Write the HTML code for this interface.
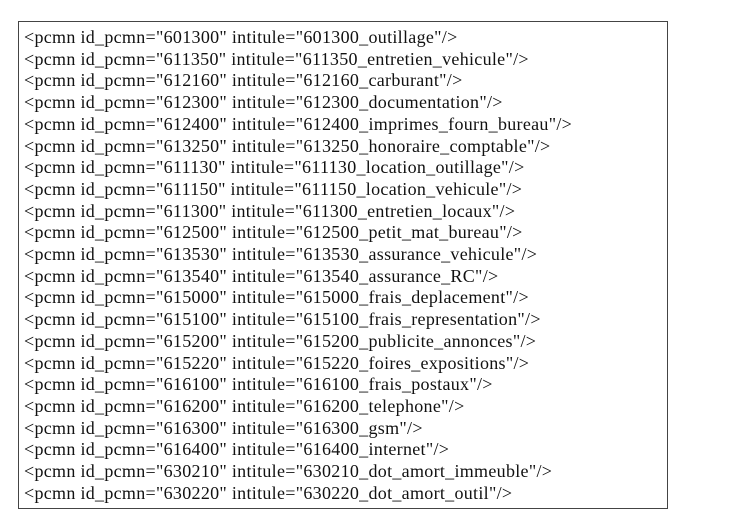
<!DOCTYPE html>
<html><head><meta charset="utf-8"><style>
html,body{margin:0;padding:0;background:#fff;}
body{width:750px;height:527px;position:relative;overflow:hidden;}
.box{position:absolute;left:18px;top:21px;width:650px;height:488px;border:1px solid #444;box-sizing:border-box;}
.t{position:absolute;left:24px;top:27px;font-family:"Liberation Serif",serif;font-size:18px;letter-spacing:0.3px;line-height:21.7px;color:#111;white-space:pre;}
</style></head><body>
<div class="box"></div>
<div class="t">&lt;pcmn id_pcmn="601300" intitule="601300_outillage"/&gt;
&lt;pcmn id_pcmn="611350" intitule="611350_entretien_vehicule"/&gt;
&lt;pcmn id_pcmn="612160" intitule="612160_carburant"/&gt;
&lt;pcmn id_pcmn="612300" intitule="612300_documentation"/&gt;
&lt;pcmn id_pcmn="612400" intitule="612400_imprimes_fourn_bureau"/&gt;
&lt;pcmn id_pcmn="613250" intitule="613250_honoraire_comptable"/&gt;
&lt;pcmn id_pcmn="611130" intitule="611130_location_outillage"/&gt;
&lt;pcmn id_pcmn="611150" intitule="611150_location_vehicule"/&gt;
&lt;pcmn id_pcmn="611300" intitule="611300_entretien_locaux"/&gt;
&lt;pcmn id_pcmn="612500" intitule="612500_petit_mat_bureau"/&gt;
&lt;pcmn id_pcmn="613530" intitule="613530_assurance_vehicule"/&gt;
&lt;pcmn id_pcmn="613540" intitule="613540_assurance_RC"/&gt;
&lt;pcmn id_pcmn="615000" intitule="615000_frais_deplacement"/&gt;
&lt;pcmn id_pcmn="615100" intitule="615100_frais_representation"/&gt;
&lt;pcmn id_pcmn="615200" intitule="615200_publicite_annonces"/&gt;
&lt;pcmn id_pcmn="615220" intitule="615220_foires_expositions"/&gt;
&lt;pcmn id_pcmn="616100" intitule="616100_frais_postaux"/&gt;
&lt;pcmn id_pcmn="616200" intitule="616200_telephone"/&gt;
&lt;pcmn id_pcmn="616300" intitule="616300_gsm"/&gt;
&lt;pcmn id_pcmn="616400" intitule="616400_internet"/&gt;
&lt;pcmn id_pcmn="630210" intitule="630210_dot_amort_immeuble"/&gt;
&lt;pcmn id_pcmn="630220" intitule="630220_dot_amort_outil"/&gt;</div>
</body></html>
